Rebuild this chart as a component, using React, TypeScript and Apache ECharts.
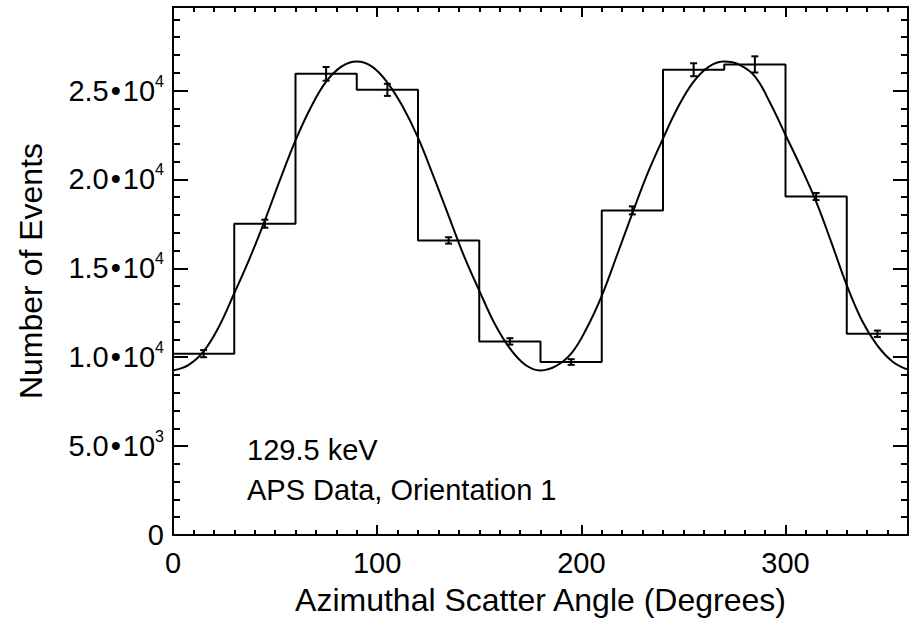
import React, { useEffect, useRef } from "react";
import * as echarts from "echarts";

// ---- data ----
const binEdges = [0, 30, 60, 90, 120, 150, 180, 210, 240, 270, 300, 330, 360];
const counts = [10200, 17510, 25940, 25040, 16570, 10890, 9730, 18260, 26170, 26470, 19040, 11320];
const errors = [200, 225, 385, 340, 180, 180, 160, 225, 365, 455, 200, 180];

const fitAngles = [
  0, 7.5, 15, 22.5, 30, 37.5, 45, 52.5, 60, 67.5, 75, 82.5, 90, 97.5, 105, 112.5, 120, 127.5, 135, 142.5, 150, 157.5, 165, 172.5,
  180, 187.5, 195, 202.5, 210, 217.5, 225, 232.5, 240, 247.5, 255, 262.5, 270, 277.5, 285, 292.5, 300, 307.5, 315, 322.5, 330, 337.5, 345, 352.5, 360,
];
const fitValues = [
  9260, 9560, 10330, 11720, 13600, 15550, 17700, 20000, 22200, 24050, 25500, 26350, 26630, 26350, 25450, 24100, 22350, 20200, 17950, 15700, 13750, 11900, 10500, 9580,
  9260, 9500, 10200, 11600, 13450, 15750, 18100, 20350, 22300, 24100, 25500, 26350, 26630, 26450, 25800, 24300, 22500, 20700, 18750, 16450, 14050, 12050, 10650, 9750, 9300,
];

const xTickValues = [0, 100, 200, 300];
const xTickLabels = ["0", "100", "200", "300"];
const yTickValues = [0, 5000, 10000, 15000, 20000, 25000];
const yTickMantissas = ["0", "5.0", "1.0", "1.5", "2.0", "2.5"];
const yTickExponents = ["", "3", "4", "4", "4", "4"];

const xTitle = "Azimuthal Scatter Angle (Degrees)";
const yTitle = "Number of Events";
const note1 = "129.5 keV";
const note2 = "APS Data, Orientation 1";

const FONT = '"Liberation Sans", Arial, Helvetica, sans-serif';

export default function App() {
  const ref = useRef<HTMLDivElement>(null);

  useEffect(() => {
    if (!ref.current) return;
    const chart = echarts.init(ref.current, null, { renderer: "svg" });

    const stepData: number[][] = [];
    for (let i = 0; i < counts.length; i++) stepData.push([binEdges[i], counts[i]]);
    stepData.push([binEdges[binEdges.length - 1], counts[counts.length - 1]]);

    const errData = counts.map((c, i) => [
      (binEdges[i] + binEdges[i + 1]) / 2,
      c - errors[i],
      c + errors[i],
    ]);

    const fitData = fitAngles.map((a, i) => [a, fitValues[i]]);

    const black = "#000";
    const line2 = { color: black, width: 2 };

    const xLabelFmt = (v: number) => {
      const i = xTickValues.indexOf(v);
      return i >= 0 ? xTickLabels[i] : "";
    };
    const yLabelFmt = (v: number) => {
      const i = yTickValues.indexOf(v);
      if (i < 0) return "";
      if (!yTickExponents[i]) return `{m|${yTickMantissas[i]}}`;
      return `{m|${yTickMantissas[i]}}{b|•}{m|10}{s|${yTickExponents[i]}}`;
    };

    const XMAX = 360;
    const YMAX = 29700;

    const xAxisBase = (position: string, interval: number, len: number, labels: boolean, line: boolean) => ({
      type: "value",
      position,
      min: 0,
      max: XMAX,
      interval,
      axisLine: { show: line, onZero: false, lineStyle: line2 },
      axisTick: { show: true, inside: true, length: len, lineStyle: line2 },
      axisLabel: labels
        ? { show: true, fontSize: 29, color: black, margin: 13, fontFamily: FONT, formatter: xLabelFmt }
        : { show: false },
      splitLine: { show: false },
    });
    const yAxisBase = (position: string, interval: number, len: number, labels: boolean, line: boolean) => ({
      type: "value",
      position,
      min: 0,
      max: YMAX,
      interval,
      axisLine: { show: line, onZero: false, lineStyle: line2 },
      axisTick: { show: true, inside: true, length: len, lineStyle: line2 },
      axisLabel: labels
        ? {
            show: true,
            margin: 9,
            formatter: yLabelFmt,
            rich: {
              m: { fontSize: 29, color: black, fontFamily: FONT, lineHeight: 35 },
              b: { fontSize: 29, color: black, fontFamily: FONT, lineHeight: 35, padding: [0, 2, 0, 2] },
              s: { fontSize: 16, color: black, fontFamily: FONT, verticalAlign: "top", lineHeight: 17 },
            },
          }
        : { show: false },
      splitLine: { show: false },
    });

    const xMain: any = xAxisBase("bottom", 100, 10, true, true);
    xMain.name = xTitle;
    xMain.nameLocation = "middle";
    xMain.nameGap = 49;
    xMain.nameTextStyle = { fontSize: 32, color: black, fontFamily: FONT };

    const yMain: any = yAxisBase("left", 5000, 15, true, true);
    yMain.name = yTitle;
    yMain.nameLocation = "middle";
    yMain.nameGap = 126;
    yMain.nameTextStyle = { fontSize: 32, color: black, fontFamily: FONT };

    const option: any = {
      animation: false,
      backgroundColor: "#fff",
      textStyle: { fontFamily: FONT },
      grid: { left: 173, top: 7, width: 742, height: 528, containLabel: false },
      xAxis: [
        xMain,
        xAxisBase("bottom", 10, 5, false, false),
        xAxisBase("top", 100, 10, false, true),
        xAxisBase("top", 10, 5, false, false),
      ],
      yAxis: [
        yMain,
        yAxisBase("left", 1000, 7, false, false),
        yAxisBase("right", 5000, 15, false, true),
        yAxisBase("right", 1000, 7, false, false),
      ],
      graphic: [
        { type: "text", left: 247, top: 435, style: { text: note1, font: `29px ${FONT}`, fill: black } },
        { type: "text", left: 247, top: 475, style: { text: note2, font: `29px ${FONT}`, fill: black } },
      ],
      series: [
        {
          type: "line",
          name: "histogram",
          data: stepData,
          step: "end",
          symbol: "none",
          lineStyle: { color: black, width: 2 },
          xAxisIndex: 0,
          yAxisIndex: 0,
        },
        {
          type: "line",
          name: "fit",
          data: fitData,
          smooth: 0.4,
          symbol: "none",
          lineStyle: { color: black, width: 2 },
          xAxisIndex: 0,
          yAxisIndex: 0,
        },
        {
          type: "custom",
          name: "errors",
          data: errData,
          encode: { x: 0, y: [1, 2] },
          xAxisIndex: 0,
          yAxisIndex: 0,
          renderItem: (params: any, api: any) => {
            const x = api.value(0);
            const lo = api.coord([x, api.value(1)]);
            const hi = api.coord([x, api.value(2)]);
            const hw = 3.5;
            const st = { stroke: black, lineWidth: 2 };
            return {
              type: "group",
              children: [
                { type: "line", shape: { x1: lo[0], y1: lo[1], x2: hi[0], y2: hi[1] }, style: st },
                { type: "line", shape: { x1: lo[0] - hw, y1: lo[1], x2: lo[0] + hw, y2: lo[1] }, style: st },
                { type: "line", shape: { x1: hi[0] - hw, y1: hi[1], x2: hi[0] + hw, y2: hi[1] }, style: st },
              ],
            };
          },
        },
      ],
    };

    chart.setOption(option);
    return () => chart.dispose();
  }, []);

  return (
    <div
      ref={ref}
      style={{ position: "absolute", left: 0, top: 0, width: 911, height: 622, background: "#fff" }}
    />
  );
}
